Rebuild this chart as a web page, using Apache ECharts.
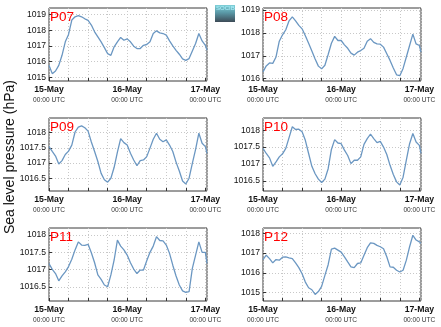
<!DOCTYPE html>
<html><head><meta charset="utf-8">
<script src="https://cdn.jsdelivr.net/npm/echarts@6/dist/echarts.min.js"></script>
<style>html,body{margin:0;padding:0;background:#fff}#c{width:441px;height:327px}</style>
</head><body><div id="c"></div>
<script>
const hours = [0,1,2,3,4,5,6,7,8,9,10,11,12,13,14,15,16,17,18,19,20,21,22,23,24,25,26,27,28,29,30,31,32,33,34,35,36,37,38,39,40,41,42,43,44,45,46,47,48,48.5];
const dayLabels = {0:'15-May',24:'16-May',48:'17-May'};
const timeLabel = '00:00 UTC';
const stations = ['P07','P08','P09','P10','P11','P12'];
const p07 = [1015.77,1015.24,1015.41,1015.77,1016.41,1017.27,1017.74,1018.66,1018.87,1018.94,1018.87,1018.74,1018.64,1018.34,1017.91,1017.59,1017.27,1016.9,1016.52,1016.41,1016.95,1017.27,1017.55,1017.37,1017.46,1017.27,1016.99,1016.84,1016.84,1017.05,1017.1,1017.27,1017.8,1017.97,1017.84,1017.8,1017.7,1017.33,1017.01,1016.73,1016.48,1016.18,1016.09,1016.2,1016.69,1017.16,1017.8,1017.33,1017.05,1016.73];
const p08 = [1016.30,1016.56,1016.69,1016.67,1016.95,1017.64,1017.92,1018.14,1018.53,1018.70,1018.53,1018.33,1018.18,1017.88,1017.55,1017.21,1016.86,1016.55,1016.43,1016.59,1017.06,1017.55,1017.85,1017.67,1017.67,1017.48,1017.33,1017.12,1017.03,1017.16,1017.23,1017.33,1017.64,1017.75,1017.59,1017.52,1017.51,1017.38,1017.09,1016.8,1016.47,1016.17,1016.13,1016.45,1016.95,1017.45,1017.95,1017.52,1017.45,1017.16];
const p09 = [1017.54,1017.38,1017.23,1016.97,1017.08,1017.28,1017.39,1017.59,1018.02,1018.18,1018.22,1018.16,1018.05,1017.69,1017.38,1017.05,1016.66,1016.45,1016.37,1016.5,1016.86,1017.36,1017.8,1017.67,1017.59,1017.32,1017.1,1016.91,1017.08,1017.1,1017.21,1017.49,1017.78,1017.98,1017.78,1017.7,1017.76,1017.59,1017.38,1017.03,1016.74,1016.41,1016.31,1016.5,1016.99,1017.45,1017.98,1017.65,1017.54,1017.32];
const p10 = [1017.46,1017.31,1017.18,1016.93,1017.06,1017.21,1017.3,1017.46,1017.78,1018.1,1018.02,1018.03,1017.95,1017.7,1017.31,1016.93,1016.71,1016.55,1016.45,1016.55,1016.86,1017.43,1017.72,1017.62,1017.6,1017.41,1017.25,1017.01,1017.11,1017.11,1017.21,1017.58,1017.75,1017.88,1017.75,1017.63,1017.67,1017.5,1017.28,1016.96,1016.69,1016.47,1016.38,1016.61,1017.11,1017.6,1017.9,1017.65,1017.55,1017.31];
const p11 = [1017.18,1017.01,1016.89,1016.68,1016.82,1016.94,1017.09,1017.3,1017.57,1017.8,1017.71,1017.7,1017.73,1017.49,1017.2,1016.85,1016.72,1016.56,1016.51,1016.85,1017.28,1017.85,1017.68,1017.57,1017.42,1017.2,1017.02,1016.89,1016.99,1016.99,1017.26,1017.5,1017.68,1017.95,1017.84,1017.83,1017.71,1017.47,1017.13,1016.82,1016.56,1016.39,1016.35,1016.37,1017.04,1017.42,1017.8,1017.5,1017.5,1017.18];
const p12 = [1016.67,1016.89,1016.72,1016.5,1016.67,1016.64,1016.79,1016.81,1016.76,1016.72,1016.5,1016.26,1015.95,1015.53,1015.24,1015.14,1014.9,1015.05,1015.31,1015.87,1016.41,1017.2,1017.25,1017.15,1017.05,1016.81,1016.55,1016.3,1016.26,1016.47,1016.5,1016.89,1017.27,1017.52,1017.49,1017.39,1017.32,1017.22,1016.81,1016.3,1016.28,1016.13,1016.04,1016.13,1016.64,1017.32,1017.9,1017.66,1017.57,1017.49];
const seriesValues = [p07,p08,p09,p10,p11,p12];
const yMin = [1014.77,1015.9,1016.08,1016.2,1016.1,1014.57];
const yMax = [1019.43,1019.09,1018.48,1018.36,1018.2,1018.27];
const yTicks = [
  [1015,1016,1017,1018,1019],
  [1016,1017,1018,1019],
  [1016.5,1017,1017.5,1018],
  [1016.5,1017,1017.5,1018],
  [1016.5,1017,1017.5,1018],
  [1015,1016,1017,1018]
];

const lefts = [49,263], tops = [8,118,228];
const FONT = 'Liberation Sans, Arial, sans-serif';
const grids=[], xAxes=[], yAxes=[], series=[], titles=[];
for (let i=0;i<6;i++){
  const col=i%2, row=Math.floor(i/2);
  grids.push({left:lefts[col], top:tops[row], width:158, height:73, show:true, borderColor:'#3a3a3a', borderWidth:1, backgroundColor:'#fff'});
  xAxes.push({gridIndex:i, type:'value', min:0, max:48.5, interval:6,
    axisLine:{show:false}, axisTick:{show:true, inside:true, length:3, lineStyle:{color:'#333'}},
    splitLine:{show:true, lineStyle:{color:'#c8c8c8', type:[1,2], width:1}},
    axisLabel:{show:true, margin:3, showMaxLabel:false, fontFamily:FONT,
      formatter:v=> dayLabels[v]!==undefined ? '{a|'+dayLabels[v]+'}\n{b|'+timeLabel+'}' : '',
      rich:{a:{fontSize:8.7, fontWeight:'bold', color:'#111', fontFamily:FONT, lineHeight:11},
            b:{fontSize:6.6, color:'#333', fontFamily:FONT, lineHeight:10}}}});
  yAxes.push({gridIndex:i, type:'value', min:yMin[i], max:yMax[i],
    axisLine:{show:false}, axisTick:{show:true, inside:true, length:3, lineStyle:{color:'#333'}, customValues:yTicks[i]},
    splitLine:{show:true, lineStyle:{color:'#c8c8c8', type:[1,2], width:1}},
    axisLabel:{fontSize:8.6, color:'#111', margin:3, fontFamily:FONT, customValues:yTicks[i],
      formatter:v=> String(v)}});
  series.push({type:'line', xAxisIndex:i, yAxisIndex:i, showSymbol:false, smooth:false,
    data: hours.map((h,k)=>[h, seriesValues[i][k]]),
    lineStyle:{color:'#6b97c2', width:1.3}, animation:false});
  titles.push({text:stations[i], left:lefts[col]+1, top:tops[row]+2, padding:0,
    textStyle:{color:'#ff0000', fontSize:13.5, fontWeight:'normal', fontFamily:FONT}});
}
const chart = echarts.init(document.getElementById('c'), null, {renderer:'canvas'});
chart.setOption({
  animation:false,
  title:titles, grid:grids, xAxis:xAxes, yAxis:yAxes, series:series,
  graphic:[
    {type:'text', left:3, top:80, rotation:Math.PI/2, style:{text:'Sea level pressure (hPa)', fontSize:14, fill:'#111', fontFamily:FONT}},
    {type:'rect', left:215, top:5, shape:{width:20, height:17}, style:{fill:new echarts.graphic.LinearGradient(0,0,0,1,[{offset:0,color:'#7fd0d8'},{offset:0.45,color:'#5a98a6'},{offset:1,color:'#3d4b57'}])}},
    {type:'text', left:216, top:5, style:{text:'SOCIB', fontSize:6, fill:'#aef4ff', fontFamily:FONT}}
  ]
});
</script></body></html>
